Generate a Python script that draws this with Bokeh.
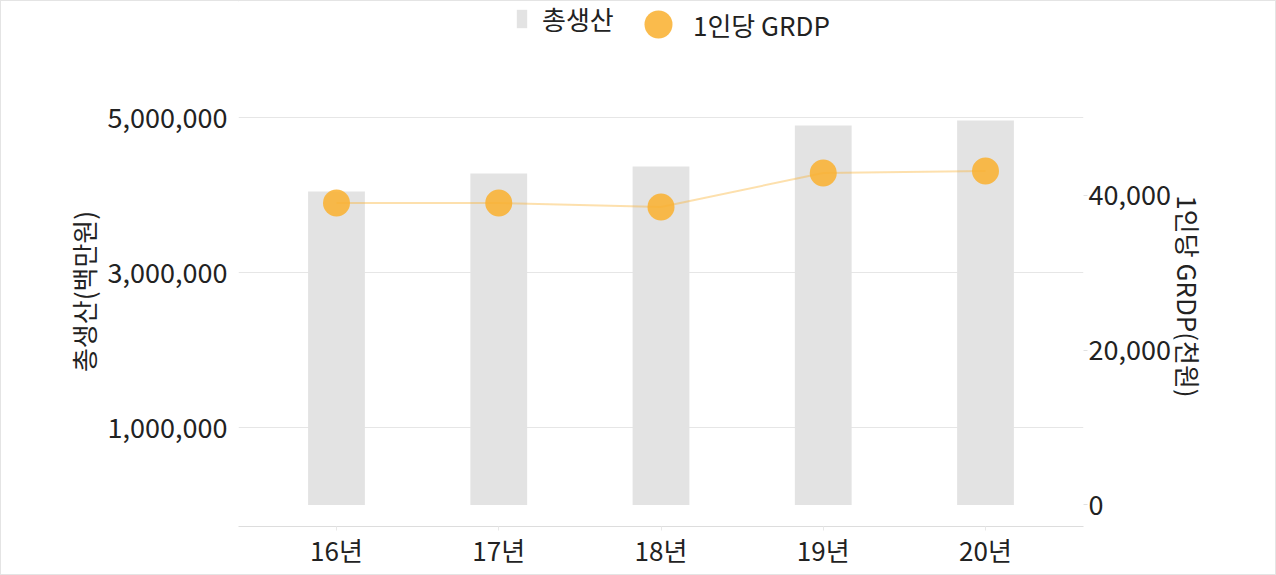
import math
from bokeh.plotting import figure
from bokeh.layouts import column, row
from bokeh.models import (Range1d, LinearAxis, FixedTicker, NumeralTickFormatter,
                          Legend, LegendItem, ColumnDataSource, Label)
from bokeh.embed import file_html
from bokeh.resources import INLINE

# ---- data ----
years = ["16년", "17년", "18년", "19년", "20년"]
total_output = [4045000, 4277000, 4368000, 4897000, 4961000]   # 총생산 (백만원)
grdp_per_capita = [38970, 38970, 38450, 42840, 43100]           # 1인당 GRDP (천원)
left_ticks = [1000000, 3000000, 5000000]
right_ticks = [0, 20000, 40000]

FONT = "Noto Sans CJK KR"
TXT = "#222222"
BAR = "#e3e3e3"
DOT = "#f9b233"

xs = list(range(len(years)))
src = ColumnDataSource(dict(x=xs, total=total_output, grdp=grdp_per_capita))

# ---- main chart ----
p = figure(width=1172, height=518, output_backend="svg", toolbar_location=None,
           x_range=Range1d(-0.604, 4.604), y_range=Range1d(-277420, 5787100),
           min_border_left=237, min_border_right=90, min_border_top=0,
           min_border_bottom=48)
p.extra_y_ranges = {"right": Range1d(-2774.2, 57871)}
p.outline_line_color = None
p.background_fill_color = "white"
p.border_fill_color = "white"

bars = p.vbar(x="x", top="total", bottom=0, width=0.35, source=src,
              fill_color=BAR, line_color=None)
p.line(x="x", y="grdp", source=src, y_range_name="right",
       line_color=DOT, line_alpha=0.4, line_width=2)
dots = p.scatter(x="x", y="grdp", source=src, y_range_name="right", size=27,
                 fill_color=DOT, fill_alpha=0.88, line_color=None)

# x axis
xa = p.xaxis[0]
xa.ticker = FixedTicker(ticks=xs)
xa.major_label_overrides = {i: y for i, y in enumerate(years)}
xa.axis_line_color = "#dddddd"
xa.major_tick_line_color = "#e8e8e8"
xa.major_tick_in = 0
xa.major_tick_out = 4
xa.minor_tick_line_color = None
xa.major_label_text_font = FONT
xa.major_label_text_font_size = "26px"
xa.major_label_text_color = TXT
xa.major_label_standoff = 0

# left axis
ya = p.yaxis[0]
ya.ticker = FixedTicker(ticks=left_ticks)
ya.formatter = NumeralTickFormatter(format="0,0")
ya.axis_line_color = None
ya.major_tick_line_color = None
ya.minor_tick_line_color = None
ya.major_label_standoff = 5
ya.major_label_text_font = FONT
ya.major_label_text_font_size = "27px"
ya.major_label_text_color = TXT
ya.axis_label = "총생산(백만원)"
ya.axis_label_text_font = FONT
ya.axis_label_text_font_size = "26px"
ya.axis_label_text_font_style = "normal"
ya.axis_label_text_color = TXT
ya.axis_label_standoff = 3

p.xgrid.grid_line_color = None
p.ygrid.ticker = FixedTicker(ticks=left_ticks)
p.ygrid.grid_line_color = "#e6e6e6"

# right axis (ticks)
ra = LinearAxis(y_range_name="right", ticker=FixedTicker(ticks=right_ticks),
                formatter=NumeralTickFormatter(format="0,0"))
ra.axis_line_color = None
ra.major_tick_line_color = "#e0e0e0"
ra.major_tick_in = 0
ra.major_tick_out = 4
ra.minor_tick_line_color = None
ra.major_label_standoff = 1
ra.major_label_text_font = FONT
ra.major_label_text_font_size = "27px"
ra.major_label_text_color = TXT
p.add_layout(ra, "right")

# ---- right axis title strip (reads top-to-bottom) ----
rf = figure(width=102, height=518, output_backend="svg", toolbar_location=None,
            x_range=Range1d(0, 1), y_range=Range1d(0, 1),
            x_axis_location=None, y_axis_location=None,
            min_border_left=0, min_border_right=0, min_border_top=0,
            min_border_bottom=48)
rf.outline_line_color = None
rf.grid.grid_line_color = None
rf.background_fill_color = "white"
rf.border_fill_color = "white"
rf.add_layout(Label(x=15, y=230, x_units="screen", y_units="screen",
                    text="1인당 GRDP(천원)", angle=-math.pi / 2,
                    text_align="center", text_baseline="middle",
                    text_font=FONT, text_font_size="26px", text_color=TXT))

# ---- legend strip ----
lg = figure(width=1274, height=55, output_backend="svg", toolbar_location=None,
            x_range=Range1d(10, 11), y_range=Range1d(-2e7, -1e7),
            x_axis_location=None, y_axis_location=None,
            min_border_left=237, min_border_right=0, min_border_top=0,
            min_border_bottom=0)
lg.outline_line_color = None
lg.grid.grid_line_color = None
lg.background_fill_color = "white"
lg.border_fill_color = "white"
key_bar = lg.vbar(x="x", top="total", width=0.35, source=src,
                  fill_color=BAR, line_color=None)
key_dot = lg.scatter(x="x", y="grdp", source=src, size=27,
                     fill_color=DOT, fill_alpha=0.88, line_color=None)

leg1 = Legend(items=[LegendItem(label="총생산", renderers=[key_bar])],
              location=(277, 19), orientation="horizontal",
              glyph_width=13, glyph_height=23, label_standoff=14,
              padding=0, margin=0, spacing=0,
              background_fill_alpha=0, border_line_color=None,
              label_text_font=FONT, label_text_font_size="26px",
              label_text_color=TXT)
leg2 = Legend(items=[LegendItem(label="1인당 GRDP", renderers=[key_dot])],
              location=(385, -3), orientation="horizontal",
              glyph_width=70, glyph_height=70, label_standoff=-5,
              padding=0, margin=0, spacing=0,
              background_fill_alpha=0, border_line_color=None,
              label_text_font=FONT, label_text_font_size="26px",
              label_text_color=TXT)
lg.add_layout(leg1, "center")
lg.add_layout(leg2, "center")

layout = column(lg, row(p, rf, spacing=0), spacing=0)
layout.styles = {"border": "1px solid #e4e4e4"}

open("out.html", "w").write(file_html(layout, INLINE))
